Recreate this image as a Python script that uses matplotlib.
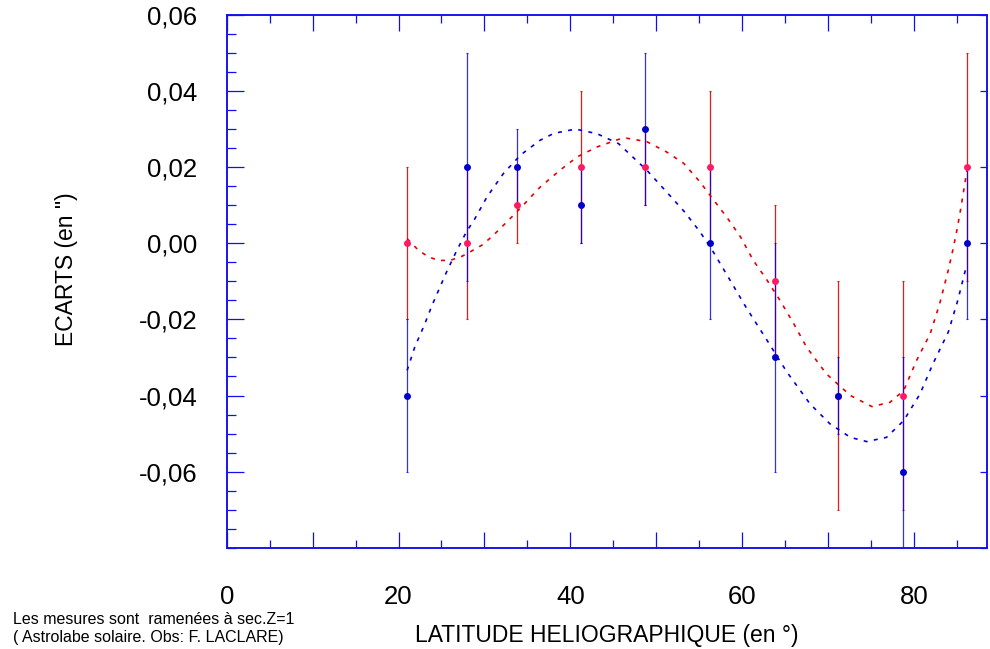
import matplotlib
matplotlib.use('Agg')
import matplotlib.pyplot as plt
from matplotlib.ticker import FixedLocator, FuncFormatter, MultipleLocator

plt.rcParams['font.family'] = ['Liberation Sans', 'DejaVu Sans']

# latitudes des mesures
lat = [21.0, 28.0, 33.8, 41.2, 48.7, 56.2, 63.8, 71.2, 78.7, 86.2]

# serie bleue
ecart_b = [-0.04, 0.02, 0.02, 0.01, 0.03, 0.00, -0.03, -0.04, -0.06, 0.00]
err_b = [0.02, 0.03, 0.01, 0.01, 0.02, 0.02, 0.03, 0.01, 0.03, 0.02]

# serie rouge
ecart_r = [0.00, 0.00, 0.01, 0.02, 0.02, 0.02, -0.01, -0.04, -0.04, 0.02]
err_r = [0.02, 0.02, 0.01, 0.02, 0.01, 0.02, 0.02, 0.03, 0.03, 0.03]

# courbes d'ajustement
fit_b_x = [21.0, 21.9, 23.0, 23.9, 25.6, 26.8, 27.9, 28.9, 30.3, 32.2, 34.2, 36.5,
           38.1, 40.6, 43.1, 45.6, 48.9, 51.2, 53.2, 55.1, 56.7, 58.2, 60.5, 62.9,
           65.2, 67.9, 70.2, 72.6, 74.5, 76.8, 78.8, 80.7, 82.2, 84.0, 85.1, 86.1]
fit_b_y = [-0.0334, -0.0272, -0.0215, -0.0163, -0.0075, -0.0018, 0.0030, 0.0065,
           0.0122, 0.0183, 0.0232, 0.0271, 0.0289, 0.0300, 0.0288, 0.0262, 0.0192,
           0.0135, 0.0085, 0.0030, -0.0025, -0.0082, -0.0170, -0.0255, -0.0338,
           -0.0422, -0.0474, -0.0510, -0.0521, -0.0510, -0.0466, -0.0396, -0.0317,
           -0.0233, -0.0150, -0.0060]

fit_r_x = [21.0, 22.3, 23.5, 24.7, 26.0, 27.4, 28.3, 29.7, 30.9, 32.2, 33.4, 34.5,
           36.5, 38.8, 40.8, 43.1, 45.6, 46.6, 48.9, 51.2, 53.2, 55.1, 56.7, 58.2,
           59.8, 61.3, 62.9, 64.4, 66.0, 67.5, 69.8, 72.6, 75.1, 77.2, 78.8, 80.3,
           81.9, 83.0, 84.0, 84.6, 85.0, 85.4, 85.8, 86.2]
fit_r_y = [0.0012, -0.0018, -0.0036, -0.0045, -0.0045, -0.0034, -0.0023, -0.0005,
           0.0018, 0.0047, 0.0074, 0.0100, 0.0148, 0.0192, 0.0227, 0.0253, 0.0273,
           0.0276, 0.0267, 0.0240, 0.0210, 0.0161, 0.0113, 0.0069, 0.0017, -0.0045,
           -0.0097, -0.0150, -0.0211, -0.0273, -0.0343, -0.0400, -0.0429, -0.0418,
           -0.0387, -0.0308, -0.0237, -0.0158, -0.0070, -0.0010, 0.0035, 0.0085,
           0.0140, 0.0196]

ytick_vals = [-0.06, -0.04, -0.02, 0.00, 0.02, 0.04, 0.06]

BLEU = '#0000dd'
ROUGE = '#e60000'
AXE = '#1010ee'

fig = plt.figure(figsize=(9.9, 6.49), dpi=100)
ax = fig.add_axes([0.229, 0.156, 0.7677, 0.821])

ax.errorbar(lat, ecart_r, yerr=err_r, fmt='none', ecolor=ROUGE, elinewidth=0.9,
            capsize=0.8, capthick=0.8, alpha=0.9, zorder=2)
ax.errorbar(lat, ecart_b, yerr=err_b, fmt='none', ecolor=BLEU, elinewidth=0.9,
            capsize=0.8, capthick=0.8, alpha=0.8, zorder=2)

ax.plot(fit_b_x, fit_b_y, color=BLEU, lw=1.2, linestyle=(0, (2.4, 3.8)), zorder=3)
ax.plot(fit_r_x, fit_r_y, color=ROUGE, lw=1.2, linestyle=(0, (2.4, 3.8)), zorder=3)

ax.plot(lat, ecart_r, 'o', color='#ff1a66', ms=5, mec='none', zorder=4)
ax.plot(lat, ecart_b, 'o', color='#0000cc', ms=5, mec='none', zorder=5)

ax.set_xlim(0, 88.47)
ax.set_ylim(-0.08, 0.06)

for s in ax.spines.values():
    s.set_color(AXE)
    s.set_linewidth(1.1)

ax.xaxis.set_major_locator(MultipleLocator(10))
ax.xaxis.set_minor_locator(MultipleLocator(5))
ax.xaxis.set_major_formatter(FuncFormatter(
    lambda v, p: '%d' % round(v) if round(v) % 20 == 0 else ''))
ax.yaxis.set_major_locator(FixedLocator(ytick_vals))
ax.yaxis.set_minor_locator(MultipleLocator(0.005))
ax.yaxis.set_major_formatter(FuncFormatter(
    lambda v, p: ('%.2f' % (round(v, 2) + 0.0)).replace('.', ',')))

ax.tick_params(axis='x', which='both', direction='in', top=True, bottom=True,
               colors=AXE, labelcolor='black', labelsize=18.5, pad=27, width=0.9)
ax.tick_params(axis='x', which='major', length=11.5)
ax.tick_params(axis='x', which='minor', length=5.8)
ax.tick_params(axis='y', which='both', direction='in', left=True, right=False,
               colors=AXE, labelcolor='black', labelsize=18.5, pad=21, width=0.9)
ax.tick_params(axis='y', which='major', length=12.2)
ax.tick_params(axis='y', which='minor', length=6.5)

# graduations a droite
ax2 = ax.twinx()
ax2.set_ylim(-0.08, 0.06)
ax2.yaxis.set_major_locator(MultipleLocator(0.02))
ax2.tick_params(axis='y', direction='in', length=5, width=0.9, colors=AXE,
                labelright=False)
for s in ax2.spines.values():
    s.set_color(AXE)
    s.set_linewidth(1.1)

fig.text(0.067, 0.585, 'ECARTS (en ")', rotation=90, ha='center', va='center',
         fontsize=16.5)
fig.text(0.6125, 0.0112, 'LATITUDE HELIOGRAPHIQUE (en °)', ha='center',
         va='baseline', fontsize=16.5)
fig.text(0.0131, 0.0381, 'Les mesures sont  ramenées à sec.Z=1', ha='left',
         va='baseline', fontsize=11.5)
fig.text(0.0131, 0.0103, '( Astrolabe solaire. Obs: F. LACLARE)', ha='left',
         va='baseline', fontsize=11.5)

fig.savefig('out.png', dpi=100)
